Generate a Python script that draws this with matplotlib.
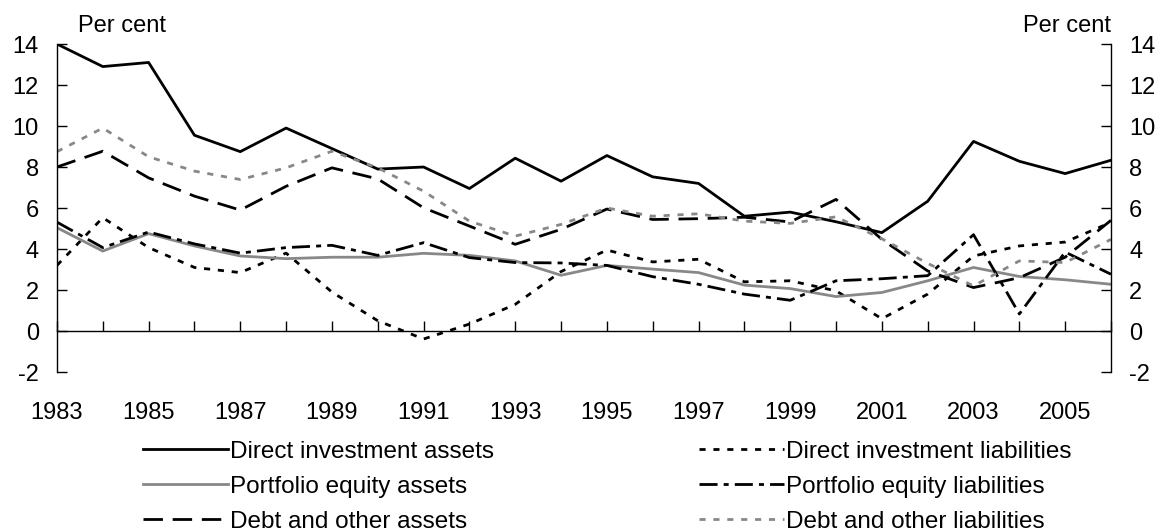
import matplotlib
matplotlib.use("Agg")
import matplotlib.pyplot as plt

plt.rcParams['font.family'] = ['Liberation Sans', 'DejaVu Sans']
plt.rcParams['axes.unicode_minus'] = False

years = list(range(1983, 2007))

# Per cent
di_assets = [14.0, 12.9, 13.1, 9.55, 8.75, 9.9, 8.9, 7.9, 8.0, 6.95, 8.43, 7.31,
             8.56, 7.52, 7.2, 5.6, 5.8, 5.33, 4.8, 6.33, 9.25, 8.28, 7.68, 8.33]
di_liab = [3.2, 5.53, 4.07, 3.1, 2.85, 3.8, 1.9, 0.5, -0.39, 0.34, 1.3, 2.9,
           3.95, 3.37, 3.5, 2.4, 2.45, 1.96, 0.6, 1.8, 3.66, 4.15, 4.34, 5.3]
pe_assets = [5.04, 3.9, 4.75, 4.15, 3.66, 3.53, 3.6, 3.6, 3.79, 3.69, 3.42, 2.72,
             3.2, 3.02, 2.85, 2.24, 2.07, 1.68, 1.88, 2.45, 3.1, 2.66, 2.5, 2.28]
pe_liab = [5.31, 4.07, 4.83, 4.25, 3.8, 4.07, 4.18, 3.69, 4.31, 3.58, 3.34, 3.32,
           3.2, 2.65, 2.28, 1.8, 1.5, 2.45, 2.55, 2.7, 4.7, 0.83, 3.85, 2.77]
debt_assets = [8.0, 8.77, 7.47, 6.58, 5.9, 7.06, 7.96, 7.42, 6.01, 5.12, 4.23, 4.96,
               5.95, 5.44, 5.48, 5.55, 5.32, 6.42, 4.47, 2.93, 2.12, 2.6, 3.6, 5.4]
debt_liab = [8.75, 9.9, 8.5, 7.8, 7.39, 7.96, 8.77, 7.96, 6.82, 5.36, 4.63, 5.2,
             6.0, 5.6, 5.72, 5.36, 5.25, 5.57, 4.5, 3.3, 2.2, 3.42, 3.34, 4.47]

grey = '#888888'
dots = (0, (2.2, 2.8))

fig = plt.figure(figsize=(11.58, 5.31), dpi=100)
ax = fig.add_axes([0.0492, 0.2994, 0.9102, 0.6177])

l1, = ax.plot(years, di_assets, color='black', lw=2, label='Direct investment assets')
l2, = ax.plot(years, di_liab, color='black', lw=2, ls=dots,
              label='Direct investment liabilities')
l3, = ax.plot(years, pe_assets, color=grey, lw=2, label='Portfolio equity assets')
l4, = ax.plot(years, pe_liab, color='black', lw=2, ls=(0, (6.5, 2.2, 1.8, 2.2)),
              label='Portfolio equity liabilities')
l5, = ax.plot(years, debt_assets, color='black', lw=2, ls=(0, (7, 3.5)),
              label='Debt and other assets')
l6, = ax.plot(years, debt_liab, color=grey, lw=2, ls=dots,
              label='Debt and other liabilities')

ax.set_xlim(1983, 2006)
ax.set_ylim(-2, 14)
ax.set_yticks(range(-2, 15, 2))
ax.set_xticks(years)
ax.set_xticklabels([str(y) if y % 2 == 1 else '' for y in years])

ax.spines['top'].set_visible(False)
ax.spines['bottom'].set_position(('data', 0))
for s in ['left', 'right', 'bottom']:
    ax.spines[s].set_linewidth(1)

ax.tick_params(axis='x', direction='in', length=7, width=1, pad=51, labelsize=17)
ax.tick_params(axis='y', direction='in', length=7, width=1, pad=13, labelsize=17,
               left=True, right=True, labelleft=True, labelright=True)

ax.text(0.02, 1.02, 'Per cent', transform=ax.transAxes, fontsize=17,
        ha='left', va='bottom')
ax.text(1.0, 1.02, 'Per cent', transform=ax.transAxes, fontsize=17,
        ha='right', va='bottom')

fig.legend([l1, l3, l5, l2, l4, l6],
           [h.get_label() for h in [l1, l3, l5, l2, l4, l6]],
           ncol=2, loc='upper left', bbox_to_anchor=(0.115, 0.188),
           frameon=False, fontsize=17.5, handlelength=3.5, handletextpad=0.1,
           columnspacing=8.4, labelspacing=0.53, borderaxespad=0)

fig.savefig('out.png', dpi=100)
